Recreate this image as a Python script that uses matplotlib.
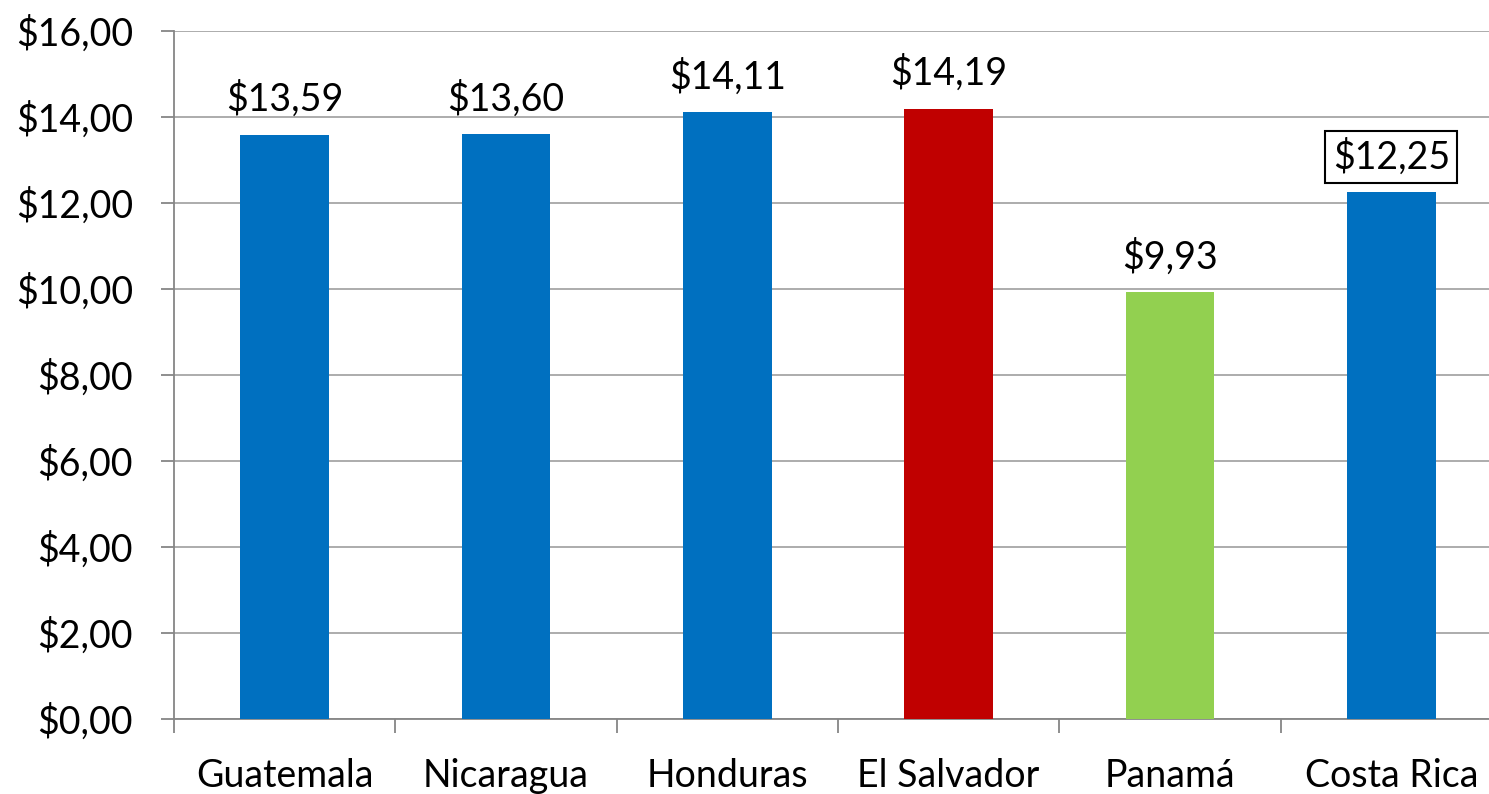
import matplotlib.pyplot as plt
from matplotlib.ticker import FuncFormatter

paises = ["Guatemala", "Nicaragua", "Honduras", "El Salvador", "Panamá", "Costa Rica"]
valores = [13.59, 13.60, 14.11, 14.19, 9.93, 12.25]
colores = ["#0070C0", "#0070C0", "#0070C0", "#C00000", "#92D050", "#0070C0"]
etiquetas = ["$13,59", "$13,60", "$14,11", "$14,19", "$9,93", "$12,25"]
yticks = [0, 2, 4, 6, 8, 10, 12, 14, 16]

plt.rcParams['font.family'] = ['Lato', 'DejaVu Sans']

fig = plt.figure(figsize=(14.89, 7.94), dpi=100)
ax = fig.add_axes([174 / 1489, 75 / 794, 1328 / 1489, 688 / 794])

x = list(range(len(paises)))
bars = ax.bar(x, valores, width=0.4, color=colores, zorder=3)

for i, (b, t) in enumerate(zip(bars, etiquetas)):
    caja = None
    if i == 5:
        caja = dict(boxstyle="square,pad=0.2", fc="white", ec="black", lw=1.5)
    ax.annotate(t, (b.get_x() + b.get_width() / 2, b.get_height()),
                xytext=(0, 12), textcoords="offset points",
                ha="center", va="bottom", fontsize=27, bbox=caja)

ax.set_xlim(-0.5, 5.5)
ax.set_ylim(0, 16)
ax.set_yticks(yticks)
ax.yaxis.set_major_formatter(FuncFormatter(lambda v, p: "${:.2f}".format(v).replace(".", ",")))
ax.set_xticks(x)
ax.set_xticklabels(paises)
ax.set_xticks([i - 0.5 for i in range(len(paises) + 1)], minor=True)

ax.grid(axis="y", color="#A6A6A6", lw=1.3, zorder=0)
for s in ["top", "right"]:
    ax.spines[s].set_visible(False)
for s in ["left", "bottom"]:
    ax.spines[s].set_color("#868686")
    ax.spines[s].set_linewidth(1.3)

ax.tick_params(axis="y", length=9.5, width=1.3, color="#868686", labelsize=27, pad=20)
ax.tick_params(axis="x", which="major", length=0, labelsize=27, pad=28)
ax.tick_params(axis="x", which="minor", length=10, width=1.3, color="#868686")

fig.savefig("out.png", dpi=100)
